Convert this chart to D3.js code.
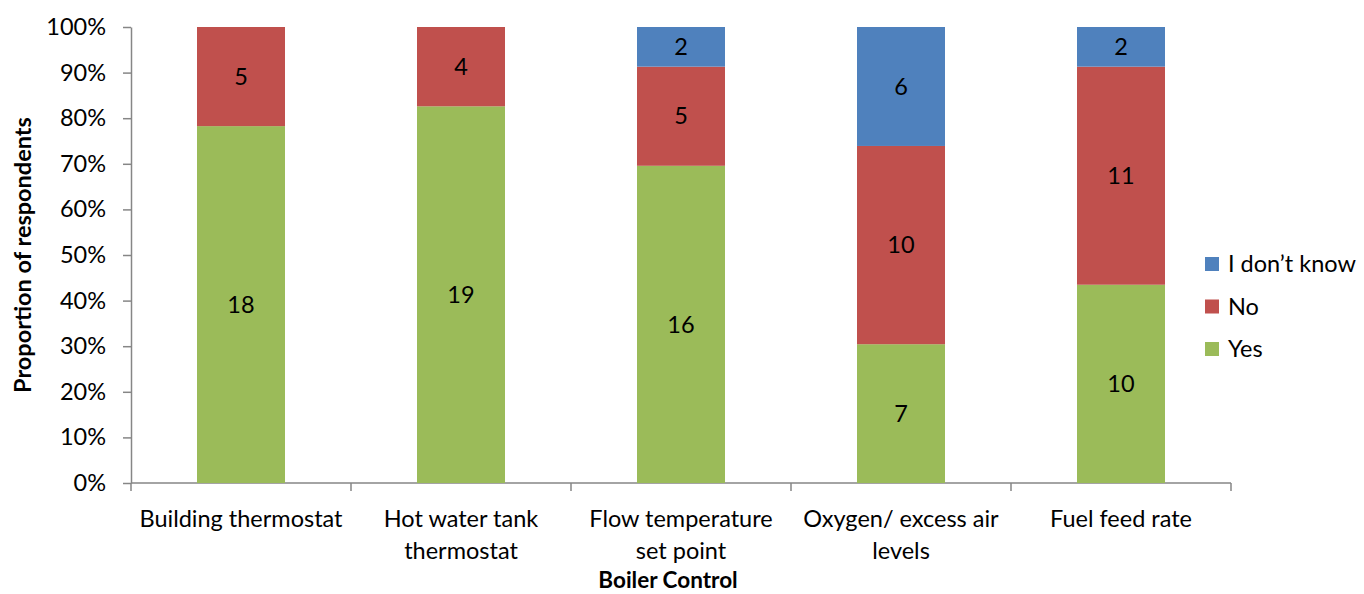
<!DOCTYPE html>
<html><head><meta charset="utf-8">
<script src="https://cdn.jsdelivr.net/npm/d3@7"></script>
<style>body{margin:0;background:#fff}svg{display:block}text{font-family:Lato,"Open Sans",sans-serif;fill:#000}</style>
</head><body><svg id="c" width="1364" height="594"></svg>
<script>
const categories = ["Building thermostat","Hot water tank thermostat","Flow temperature set point","Oxygen/ excess air levels","Fuel feed rate"];
const categoryLines = [["Building thermostat"],["Hot water tank","thermostat"],["Flow temperature","set point"],["Oxygen/ excess air","levels"],["Fuel feed rate"]];
const yes = [18,19,16,7,10];
const no = [5,4,5,10,11];
const dontKnow = [0,0,2,6,2];
const seriesNames = ["Yes","No","I don\u2019t know"];
const colors = ["#9BBB59","#C0504D","#4F81BD"];
const yTicks = [0,0.1,0.2,0.3,0.4,0.5,0.6,0.7,0.8,0.9,1];

const FS = 23.5;
const svg = d3.select("#c");
const L=131,R=1231,T=27,B=483;
const x = d3.scaleBand().domain(categories).range([L,R]).paddingInner(0.6).paddingOuter(0.3);
const y = d3.scaleLinear().domain([0,1]).range([B,T]);

const rows = categories.map((c,i)=>({cat:c,Yes:yes[i],No:no[i],"I don\u2019t know":dontKnow[i],total:yes[i]+no[i]+dontKnow[i]}));
const stack = d3.stack().keys(seriesNames).value((d,k)=>d[k]/d.total);
const layers = stack(rows);

// axes
const ya = svg.append("g").attr("transform",`translate(${L},0)`).call(d3.axisLeft(y).tickValues(yTicks).tickFormat(d3.format(".0%")).tickSize(8).tickSizeOuter(0));
ya.select(".domain").attr("stroke","#868686").attr("stroke-width",1.5);
ya.selectAll(".tick line").attr("stroke","#868686").attr("stroke-width",1.5);
ya.selectAll(".tick text").attr("font-size",FS).attr("font-family","Lato").attr("x",-25).attr("fill","#000");

const bandEdges = d3.range(categories.length+1).map(i=>L+i*(R-L)/categories.length);
svg.append("line").attr("x1",L).attr("x2",R).attr("y1",B).attr("y2",B).attr("stroke","#868686").attr("stroke-width",1.5);
svg.selectAll(".xt").data(bandEdges).join("line").attr("x1",d=>d).attr("x2",d=>d).attr("y1",B).attr("y2",B+8).attr("stroke","#868686").attr("stroke-width",1.5);

// bars
layers.forEach((layer,li)=>{
  const g = svg.append("g");
  g.selectAll("rect").data(layer).join("rect")
    .attr("x",d=>x(d.data.cat)).attr("width",x.bandwidth())
    .attr("y",d=>y(d[1])).attr("height",d=>y(d[0])-y(d[1]))
    .attr("fill",colors[li]);
  g.selectAll("text").data(layer.filter(d=>d.data[layer.key]>0)).join("text")
    .attr("x",d=>x(d.data.cat)+x.bandwidth()/2).attr("y",d=>(y(d[0])+y(d[1]))/2)
    .attr("text-anchor","middle").attr("dy","0.35em").attr("font-size",FS)
    .text(d=>d.data[layer.key]);
});

// category labels
categories.forEach((c,i)=>{
  const t = svg.append("text").attr("x",x(c)+x.bandwidth()/2).attr("y",527).attr("text-anchor","middle").attr("font-size",FS);
  categoryLines[i].forEach((ln,j)=>t.append("tspan").attr("x",x(c)+x.bandwidth()/2).attr("dy",j?32:0).text(ln));
});

svg.append("text").attr("x",668).attr("y",588).attr("text-anchor","middle").attr("font-size",22.5).attr("font-weight","bold").text("Boiler Control");
svg.append("text").attr("transform",`translate(31,${(T+B)/2}) rotate(-90)`).attr("text-anchor","middle").attr("font-size",FS).attr("font-weight","bold").text("Proportion of respondents");

// legend
const legendOrder = [2,1,0];
legendOrder.forEach((si,k)=>{
  const ly = 264 + k*42.5;
  svg.append("rect").attr("x",1205).attr("y",ly-7).attr("width",14).attr("height",14).attr("fill",colors[si]);
  svg.append("text").attr("x",1228).attr("y",ly).attr("dy","0.35em").attr("font-size",FS).text(seriesNames[si]);
});
</script></body></html>
